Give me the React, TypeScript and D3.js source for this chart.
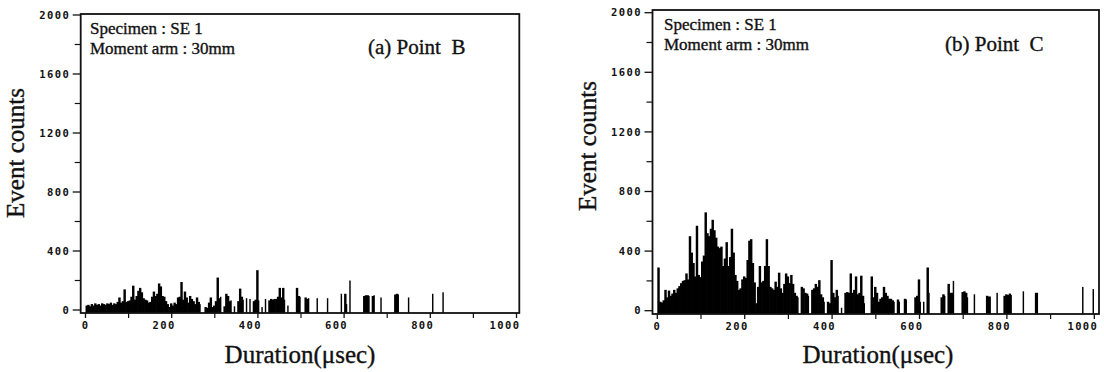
import React from "react";
import * as d3 from "d3";

const X_TICKS = [0, 200, 400, 600, 800, 1000];
const X_MINOR = [100, 300, 500, 700, 900];
const Y_TICKS = [0, 400, 800, 1200, 1600, 2000];
const Y_MINOR = [200, 600, 1000, 1400, 1800];
const BIN = 4;

// Panel (a) Point B
const durB = [
  0, 4, 8, 12, 16, 20, 24, 28, 32, 36, 40, 44, 48, 52, 56, 60, 64, 68, 72, 76, 80, 84, 88, 92, 96, 100,
  104, 108, 112, 116, 120, 124, 128, 132, 136, 140, 144, 148, 152, 156, 160, 164, 168, 172, 176, 180, 184,
  188, 192, 196, 200, 204, 208, 212, 216, 220, 224, 228, 232, 236, 240, 244, 248, 252, 256, 260, 264,
  276, 280, 284, 288, 292, 296, 300, 304, 308, 312, 320, 324, 328, 332, 336, 344, 352, 356, 360, 364,
  372, 380, 388, 392, 396, 400, 408, 416, 424, 428, 432, 436, 440, 444, 448, 452, 456, 460, 468, 488,
  492, 496, 508, 512, 516, 536, 560, 592, 600, 604, 612, 644, 648, 652, 656, 664, 668, 684, 716, 720,
  724, 748, 804, 828,
];
const cntB = [
  30, 35, 25, 40, 30, 45, 35, 40, 30, 45, 40, 35, 45, 40, 50, 35, 45, 40, 55, 85, 50, 60, 140, 55, 60, 65,
  90, 165, 70, 95, 130, 150, 120, 80, 70, 65, 50, 55, 90, 125, 95, 110, 180, 160, 95, 90, 60,
  40, 20, 45, 30, 50, 40, 85, 90, 190, 70, 125, 85, 50, 95, 75, 60, 40, 85, 55, 40,
  20, 15, 50, 85, 20, 30, 60, 220, 80, 90, 25, 110, 95, 60, 65, 25, 60, 145, 90, 70,
  80, 75, 60, 70, 270, 65, 20, 75, 65, 75, 70, 75, 75, 90, 150, 85, 150, 70, 30, 150,
  95, 90, 85, 75, 80, 80, 80, 110, 110, 40, 200, 95, 100, 100, 95, 95, 100, 85, 105, 110,
  105, 85, 110, 120,
];

// Panel (b) Point C
const durC = [
  0, 4, 8, 12, 16, 20, 24, 28, 32, 36, 40, 44, 48, 52, 56, 60, 64, 68, 72, 76, 80, 84, 88, 92, 96, 100,
  104, 108, 112, 116, 120, 124, 128, 132, 136, 140, 144, 148, 152, 156, 160, 164, 168, 172, 176, 180, 184,
  188, 192, 196, 200, 204, 208, 212, 216, 220, 224, 228, 232, 236, 240, 244, 248, 252, 256, 260, 264,
  268, 272, 276, 280, 284, 288, 292, 296, 300, 304, 308, 312, 316, 320,
  328, 332, 336, 340, 344, 352, 356, 360, 364, 368, 372, 376, 380, 388, 392, 396, 400, 404, 408, 412,
  420, 428, 432, 436, 440, 444, 448, 452, 456, 460, 464, 468, 472, 488, 492, 496, 500, 504, 508, 512,
  516, 520, 524, 528, 532, 536, 540, 548, 552, 564, 568, 588, 592, 596, 600, 608, 616, 620, 648, 652,
  656, 664, 668, 672, 676, 696, 700, 704, 708, 724, 752, 756, 760, 776, 792, 796, 800, 804, 808, 836,
  864, 868, 972, 996,
];
const cntC = [
  290, 60, 55, 70, 140, 90, 135, 100, 115, 140, 120, 150, 165, 185, 200, 205, 250, 210, 500, 390, 320, 230, 570, 240, 225, 330,
  370, 660, 520, 500, 550, 610, 540, 490, 430, 420, 430, 300, 350, 460, 300, 360, 550, 390, 240, 200, 140,
  150, 210, 230, 220, 340, 470, 480, 320, 190, 50, 160, 300, 190, 200, 300, 480, 300, 160, 150, 140,
  195, 160, 255, 150, 120, 180, 250, 230, 185, 240, 180, 120, 100, 90,
  160, 150, 120, 115, 100, 140, 150, 180, 160, 205, 110, 90, 60, 60, 50, 340, 120, 90, 140, 100,
  20, 120, 125, 120, 250, 120, 140, 230, 110, 120, 235, 100, 50, 230, 90, 160, 120, 60, 80, 90,
  160, 120, 100, 80, 80, 70, 60, 75, 60, 80, 75, 90, 100, 210, 60, 60, 290, 120, 90, 110,
  100, 180, 120, 120, 200, 125, 130, 120, 90, 110, 100, 95, 95, 120, 100, 110, 105, 115, 105, 130,
  120, 120, 160, 145,
];

type Geo = {
  fl: number; fr: number; ft: number; fb: number;
  x0: number; x1: number; y0: number; y1: number;
  specX: number; specY: number; momY: number;
  ptX: number; ptY: number;
  ecX: number; ecY: number; durX: number; durY: number;
};

const SERIF = "'Liberation Serif', 'Times New Roman', serif";
const MONO = "'DejaVu Sans Mono', monospace";
const INK = "#111";

function Panel({ g, dur, cnt, title }: { g: Geo; dur: number[]; cnt: number[]; title: string }) {
  const x = d3.scaleLinear().domain([0, 1000]).range([g.x0, g.x1]);
  const y = d3.scaleLinear().domain([0, 2000]).range([g.y0, g.y1]);
  const bw = x(BIN) - x(0);
  const serifStyle = { stroke: INK, strokeWidth: 0.35 };
  return (
    <g>
      {dur.map((d, i) => {
        // bars that touch a neighbour bin are widened so adjacent bars merge into a solid block
        const next = dur[i + 1];
        const w = next === d + BIN ? bw + 0.7 : Math.max(1.2, bw - 0.3);
        return <rect key={i} x={x(d)} y={y(cnt[i])} width={w} height={g.fb - y(cnt[i])} fill="#000" />;
      })}
      <rect x={g.fl} y={g.ft} width={g.fr - g.fl} height={g.fb - g.ft} fill="none" stroke={INK} strokeWidth={1.8} />
      {Y_TICKS.map((v) => (
        <g key={"y" + v}>
          <line x1={g.fl - 8} x2={g.fl} y1={y(v)} y2={y(v)} stroke={INK} strokeWidth={1.3} />
          <text x={g.fl - 10.5} y={y(v)} dy="0.36em" textAnchor="end" fontFamily={MONO} fontWeight="bold" fontSize={10.5} letterSpacing={1.4} fill={INK}>
            {v}
          </text>
        </g>
      ))}
      {Y_MINOR.map((v) => (
        <line key={"ym" + v} x1={g.fl - 6} x2={g.fl} y1={y(v)} y2={y(v)} stroke={INK} strokeWidth={1.2} />
      ))}
      {X_TICKS.map((v) => (
        <g key={"x" + v}>
          <line x1={x(v)} x2={x(v)} y1={g.fb} y2={g.fb + 5} stroke={INK} strokeWidth={1.3} />
          <text x={x(v) + 4} y={g.fb + 16} textAnchor="end" fontFamily={MONO} fontWeight="bold" fontSize={10.5} letterSpacing={1.4} fill={INK}>
            {v}
          </text>
        </g>
      ))}
      {X_MINOR.map((v) => (
        <line key={"xm" + v} x1={x(v)} x2={x(v)} y1={g.fb} y2={g.fb + 5} stroke={INK} strokeWidth={1.2} />
      ))}
      <text x={g.specX} y={g.specY} fontFamily={SERIF} fontSize={17} fill={INK} style={serifStyle}>Specimen : SE 1</text>
      <text x={g.specX} y={g.momY} fontFamily={SERIF} fontSize={17} fill={INK} style={serifStyle}>Moment arm : 30mm</text>
      <text x={g.ptX} y={g.ptY} fontFamily={SERIF} fontSize={21} fill={INK} style={{ whiteSpace: "pre", ...serifStyle }}>{title}</text>
      <text transform={`translate(${g.ecX},${g.ecY}) rotate(-90)`} textAnchor="middle" fontFamily={SERIF} fontSize={25} fill={INK} style={serifStyle}>
        Event counts
      </text>
      <text x={g.durX} y={g.durY} textAnchor="middle" fontFamily={SERIF} fontSize={25} fill={INK} style={serifStyle}>
        Duration(μsec)
      </text>
    </g>
  );
}

const GEO_B: Geo = {
  fl: 80.7, fr: 519.3, ft: 14, fb: 313,
  x0: 85.5, x1: 516.5, y0: 310, y1: 15,
  specX: 90, specY: 33.5, momY: 53.5, ptX: 368, ptY: 53.5,
  ecX: 24, ecY: 153, durX: 300, durY: 363,
};
const GEO_C: Geo = {
  fl: 652.5, fr: 1099, ft: 10, fb: 314,
  x0: 657.3, x1: 1094.3, y0: 310.7, y1: 12.7,
  specX: 664, specY: 29.5, momY: 50, ptX: 945, ptY: 50.5,
  ecX: 596, ecY: 146, durX: 878, durY: 362.5,
};

export default function App() {
  return (
    <svg width={1104} height={372} style={{ position: "absolute", left: 0, top: 0, background: "#fff" }}>
      <rect width={1104} height={372} fill="#fff" />
      <Panel g={GEO_B} dur={durB} cnt={cntB} title="(a) Point  B" />
      <Panel g={GEO_C} dur={durC} cnt={cntC} title="(b) Point  C" />
    </svg>
  );
}
